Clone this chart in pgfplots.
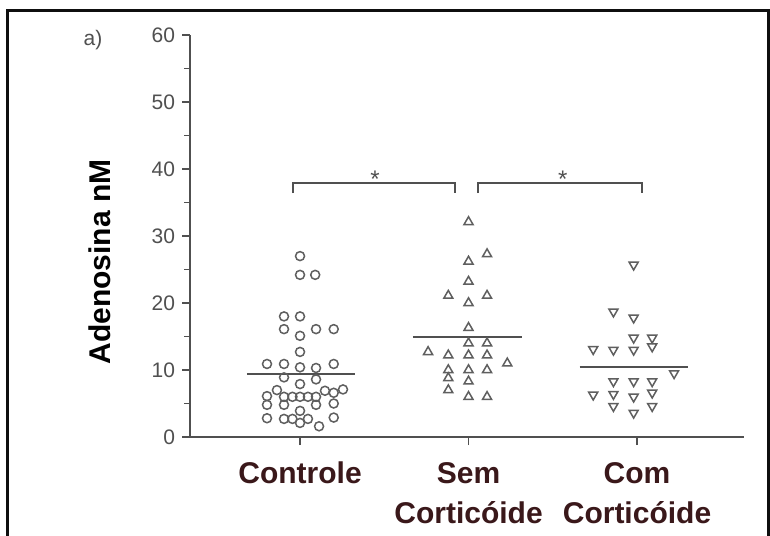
\documentclass[border=0pt]{standalone}
\usepackage{fontspec}
\setmainfont{Liberation Sans}
\usepackage{pgfplots}
\pgfplotsset{compat=1.18}
\definecolor{axgray}{RGB}{80,80,80}
\definecolor{mkgray}{RGB}{95,95,95}
\definecolor{lblbrown}{RGB}{58,24,26}
\definecolor{framecol}{RGB}{15,15,15}

\begin{document}
\begin{tikzpicture}
\useasboundingbox (0pt,0pt) rectangle (385pt,267.5pt);
\fill[white] (0pt,0pt) rectangle (385pt,267.5pt);
% open frame (bottom edge lies below the picture)
\draw[framecol, line width=1.5pt] (3.5pt,-2pt) -- (3.5pt,262.25pt) -- (384pt,262.25pt) -- (384pt,-2pt);
\node[font=\fontsize{10.5}{12}\selectfont, text=axgray] at (46.5pt,247.5pt) {a)};
\begin{axis}[
  at={(95pt,49pt)}, anchor=south west,
  scale only axis, width=277pt, height=201pt,
  xmin=0.347, xmax=3.635, ymin=0, ymax=60,
  axis lines=left, axis line style={-, axgray, line width=0.8pt},
  xtick={1,2,3},
  xticklabels={Controle, {Sem\\Corticóide}, {Com\\Corticóide}},
  xticklabel style={align=center, font=\fontsize{15}{20}\selectfont\bfseries, text=lblbrown, yshift=-5pt},
  ytick={0,10,...,60},
  minor ytick={5,15,...,55},
  yticklabel style={font=\fontsize{10.5}{12}\selectfont, text=axgray},
  /pgf/number format/assume math mode=true,
  tick align=outside, tick style={axgray, line width=0.8pt},
  major tick length=4pt, minor tick length=3pt,
  ylabel={Adenosina nM},
  ylabel style={at={(axis description cs:-0.162,0.435)}, anchor=center, font=\fontsize{15}{18}\selectfont\bfseries, text=black},
  clip=false,
]
% Controle
\addplot[only marks, mark=o, mark size=2.25pt, mark options={mkgray, line width=0.75pt}] coordinates {
(1.0,27.0)
(1.0,24.2) (1.09,24.2)
(0.905,18.0) (1.0,18.0)
(0.905,16.1) (1.095,16.1) (1.2,16.1)
(1.0,15.1)
(1.0,12.7)
(0.804,10.9) (0.905,10.9) (1.2,10.9)
(1.0,10.4) (1.095,10.3)
(0.905,8.9) (1.095,8.6)
(1.0,7.9)
(0.863,7.0) (1.148,6.9) (1.255,7.1) (1.2,6.6)
(0.804,6.1) (0.905,6.0) (0.955,6.0) (1.0,6.0) (1.047,6.0) (1.095,6.0)
(0.804,4.8) (0.905,4.8) (1.095,4.8) (1.2,5.0)
(1.0,3.9)
(0.804,2.8) (0.905,2.7) (0.955,2.7) (1.047,2.7) (1.2,2.9)
(1.0,2.1) (1.113,1.6)
};
% Sem corticoide
\addplot[only marks, mark=triangle, mark size=2.6pt, mark options={mkgray, line width=0.75pt}] coordinates {
(2.0,32.1)
(2.11,27.3)
(2.0,26.2)
(2.0,23.2)
(1.88,21.1) (2.11,21.1)
(2.0,20.0)
(2.0,16.3)
(2.0,14.0) (2.11,14.0)
(1.76,12.7)
(1.88,12.2) (2.0,12.2) (2.11,12.2)
(2.23,11.0)
(1.88,10.0) (2.0,10.0) (2.11,10.0)
(1.88,8.8) (2.0,8.3)
(1.88,7.0)
(2.0,6.0) (2.11,6.0)
};
% Com corticoide
\addplot[only marks, mark=triangle, mark size=2.6pt, mark options={mkgray, line width=0.75pt, rotate=180}] coordinates {
(2.98,25.7)
(2.86,18.7)
(2.98,17.8)
(2.98,14.8) (3.09,14.8)
(2.74,13.1) (2.86,13.0) (2.98,13.0) (3.09,13.5)
(3.22,9.5)
(2.86,8.3) (2.98,8.3) (3.09,8.3)
(2.74,6.3) (2.86,6.4) (2.98,6.0) (3.09,6.6)
(2.86,4.6) (2.98,3.6) (3.09,4.6)
};
% medians
\addplot[axgray, line width=1pt] coordinates {(0.685,9.4) (1.326,9.4)};
\addplot[axgray, line width=1pt] coordinates {(1.67,15.0) (2.318,15.0)};
\addplot[axgray, line width=1pt] coordinates {(2.66,10.4) (3.30,10.4)};
% significance brackets
\addplot[axgray, line width=0.7pt] coordinates {(0.958,36.4) (0.958,37.9) (1.92,37.9) (1.92,36.4)};
\addplot[axgray, line width=0.7pt] coordinates {(2.056,36.4) (2.056,37.9) (3.03,37.9) (3.03,36.4)};
\node[anchor=base, font=\fontsize{12}{12}\selectfont, text=axgray] at (axis cs:1.445,37.3) {*};
\node[anchor=base, font=\fontsize{12}{12}\selectfont, text=axgray] at (axis cs:2.56,37.3) {*};
\end{axis}
\end{tikzpicture}
\end{document}
